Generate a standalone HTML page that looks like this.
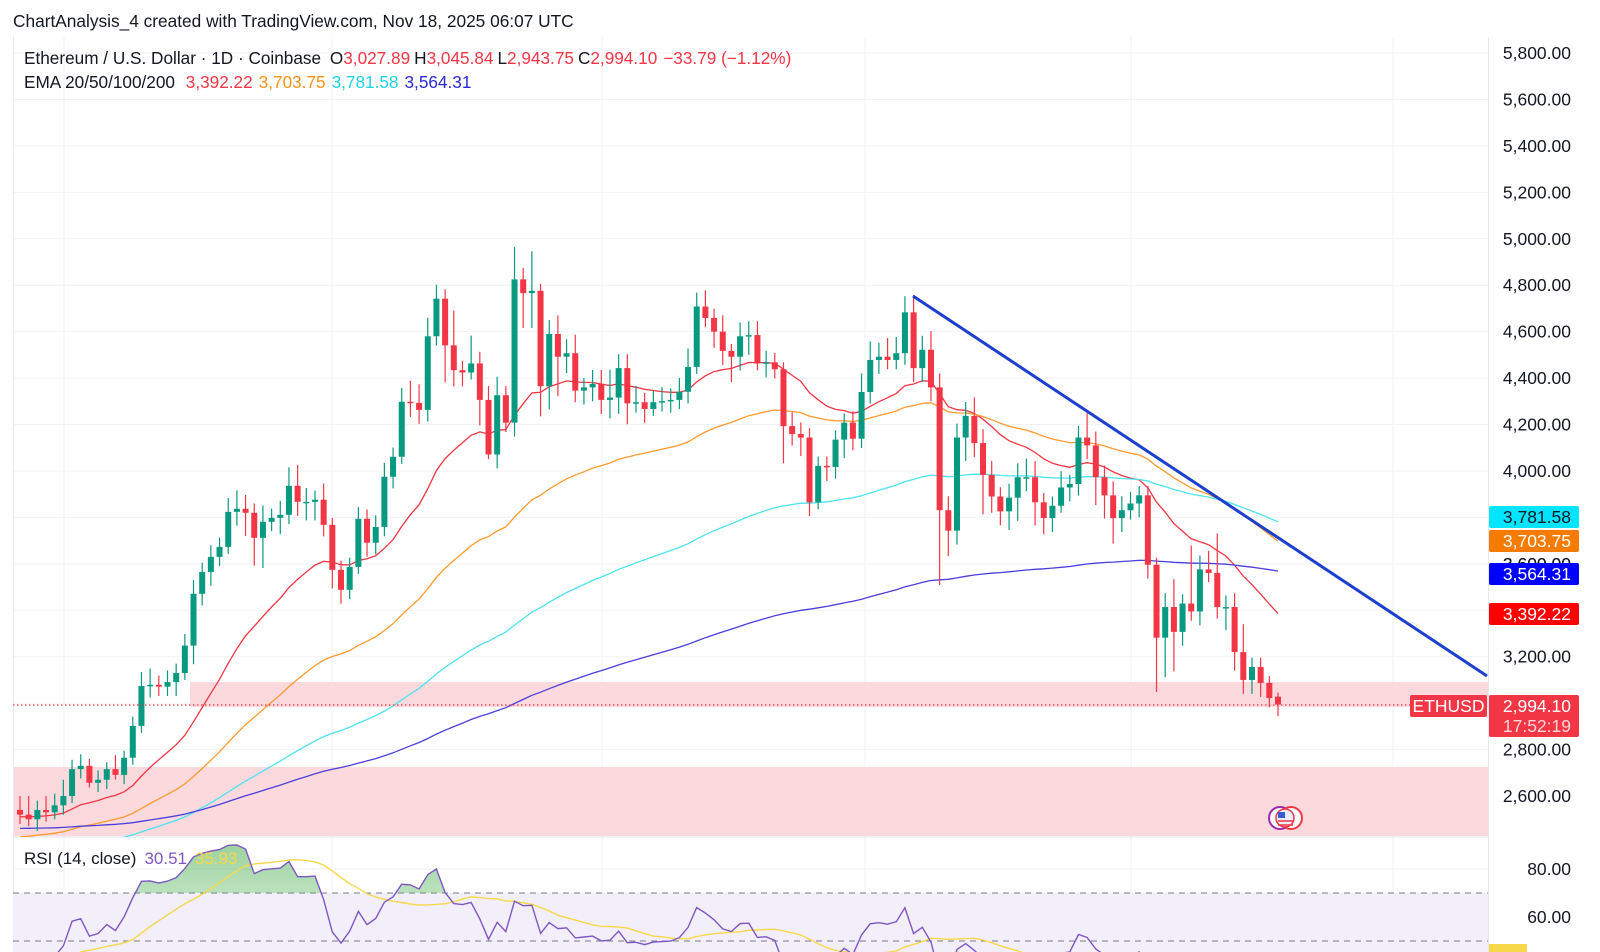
<!DOCTYPE html>
<html><head><meta charset="utf-8"><style>
html,body{margin:0;padding:0;background:#fff;}
svg{display:block;font-family:"Liberation Sans",Arial,sans-serif;}
</style></head><body>
<svg id="chart" width="1600" height="952" viewBox="0 0 1600 952" xmlns="http://www.w3.org/2000/svg">
<rect width="1600" height="952" fill="#ffffff"/>
<text x="13" y="27" font-size="17.3" fill="#131722">ChartAnalysis_4 created with TradingView.com, Nov 18, 2025 06:07 UTC</text>
<g id="grid"></g>
<rect x="190" y="682" width="1298" height="25" fill="#fbd7db" opacity="0.95"/>
<rect x="13" y="767" width="1475" height="69" fill="#fbd7db" opacity="0.95"/>
<line x1="13.5" y1="37" x2="13.5" y2="952" stroke="#e6e8ee"/>
<line x1="1488.5" y1="37" x2="1488.5" y2="952" stroke="#e6e8ee"/>
<line x1="13" y1="837" x2="1488" y2="837" stroke="#e0e3eb"/>
<g id="emas"></g>
<g id="candles"></g>
<line x1="13" y1="705" x2="1410" y2="705" stroke="#f23645" stroke-width="1.2" stroke-dasharray="1.5,2.5"/>
<line x1="913" y1="296" x2="1487" y2="676" stroke="#1c3fce" stroke-width="3"/>
<g id="axis"></g>
<g id="rsi"></g>
<g font-size="17.2">
<text x="24" y="64" fill="#131722">Ethereum / U.S. Dollar · 1D · Coinbase <tspan dx="4">O</tspan><tspan fill="#f23645">3,027.89</tspan><tspan dx="4">H</tspan><tspan fill="#f23645">3,045.84</tspan><tspan dx="4">L</tspan><tspan fill="#f23645">2,943.75</tspan><tspan dx="4">C</tspan><tspan fill="#f23645">2,994.10</tspan><tspan dx="6" fill="#f23645">−33.79 (−1.12%)</tspan></text>
<text x="24" y="88" fill="#131722">EMA 20/50/100/200 <tspan dx="6" fill="#f23645">3,392.22</tspan><tspan dx="6" fill="#f7931a">3,703.75</tspan><tspan dx="6" fill="#22d3e6">3,781.58</tspan><tspan dx="6" fill="#2a2ad6">3,564.31</tspan></text>
</g>
<g>
<circle cx="1280" cy="818" r="11" fill="#fff" stroke="#9c27b0" stroke-width="2"/>
<circle cx="1291" cy="818" r="11" fill="#fff" stroke="#f23645" stroke-width="2"/>
<circle cx="1285" cy="818" r="9" fill="#e8eefc" stroke="#f23645" stroke-width="1.5"/>
<rect x="1278" y="812" width="7" height="6" fill="#3a5bd9"/>
<line x1="1278" y1="821" x2="1293" y2="821" stroke="#f23645" stroke-width="1.5"/>
<line x1="1278" y1="825" x2="1293" y2="825" stroke="#f23645" stroke-width="1.5"/>
</g>
<script>
// ---- data (true prices, daily closes) ----
const closes = [2520,2500,2540,2530,2560,2600,
2716,2730,2657,2670,2716,2691,2765,2902,3074,3079,3071,3091,3130,3248,3471,3565,3630,3673,3824,3837,3820,3712,3781,3798,3811,3936,3867,3867,3876,3768,3574,3488,3587,3794,3691,3759,3975,4061,4298,4293,4263,4580,
4742,4541,4434,4424,4463,4306,4071,4326,4208,4825,4766,4776,4365,4590,4492,4507,4346,4360,4375,4306,4316,4443,4291,4296,4267,4296,4301,4306,4341,4448,4708,4659,4600,4517,4492,4580,4585,4463,4468,4438,4193,4159,4144,3865,4022,4017,4135,
4208,4139,4340,4478,4492,4478,4507,4683,4443,4522,4360,3831,3743,4144,4237,4120,3983,3890,3826,3885,3973,3973,3865,3797,3850,3929,3944,4144,4110,3973,3895,3797,3831,3860,3895,3596,3282,3414,3307,3429,3395,3576,3561,3414,3414,3220,3100,3156,
3087,3022,2994.10];
const wickUp = [60,80,40,60,50,70,
40,50,30,40,30,60,30,40,60,70,40,50,40,50,60,40,50,40,60,80,60,40,70,40,60,80,90,60,40,70,30,40,40,50,40,50,60,40,60,90,80,80,
60,40,150,40,120,50,60,80,40,140,50,170,30,60,80,60,80,40,60,60,120,60,60,70,40,50,60,50,60,80,60,70,40,70,30,60,60,60,50,40,30,60,50,40,40,40,40,
40,50,80,80,60,80,70,70,75,60,80,60,60,60,60,80,60,60,40,60,60,80,70,40,40,70,40,50,106,60,50,60,60,50,40,40,30,60,120,40,250,60,80,170,50,60,120,40,
40,30,18];
const wickDn = [40,30,50,40,30,40,
30,40,20,40,40,20,40,30,30,50,40,40,60,30,80,50,60,40,30,60,100,120,130,40,70,40,60,80,80,50,80,60,40,30,60,50,40,50,30,60,60,50,
40,160,70,60,30,110,20,60,40,60,150,150,130,100,170,70,50,60,60,60,80,70,90,40,60,30,40,50,40,50,30,40,70,60,110,60,80,30,60,40,160,50,80,60,30,60,50,
80,50,40,50,60,40,40,50,60,60,60,322,110,60,100,60,170,70,60,80,100,60,100,70,60,30,60,50,60,120,100,110,60,40,60,60,234,170,170,60,40,60,40,50,100,80,60,60,
60,40,50];
const lastOpen = 3027.89;
const priceTicks = [5800,5600,5400,5200,5000,4800,4600,4400,4200,4000,3800,3600,3400,3200,3000,2800,2600];
const emaPeriods = [20,50,100,200];
const emaSeeds = [2510,2420,2360,2460];
const rsiTicks = [80,60];

// ---- scales ----
const NS="http://www.w3.org/2000/svg";
const X0=20, X1=1278;
const AF='17.5';
const xPos = i => X0 + i*(X1-X0)/(closes.length-1);
const yPrice = p => 53 + (5800-p)*0.2322;
const yRsi = v => 869 + (80-v)*2.4;
function mk(tag, attrs, parent){const e=document.createElementNS(NS,tag);for(const k in attrs)e.setAttribute(k,attrs[k]);parent.appendChild(e);return e;}
const fmt = v => v.toLocaleString('en-US',{minimumFractionDigits:2,maximumFractionDigits:2});

// grid
const grid=document.getElementById('grid');
[64,332,602,865,1131,1393].forEach(x=>{const l=mk('line',{x1:x,y1:37,x2:x,y2:952,stroke:'#f0f2f5'},grid);

});
priceTicks.forEach(p=>{const l=mk('line',{x1:13,y1:yPrice(p),x2:1488,y2:yPrice(p),stroke:'#f0f2f5'},grid);

});

// axis labels
const axis=document.getElementById('axis');
priceTicks.forEach(p=>{if(p===3000||p===3400)return;const t=mk('text',{x:1571,y:yPrice(p)+6,'font-size':AF,'text-anchor':'end',fill:'#131722'},axis);t.textContent=fmt(p);

});

// candles
const cg=document.getElementById('candles');
closes.forEach((c,i)=>{
  const o = i===closes.length-1 ? lastOpen : (i===0 ? c+20 : closes[i-1]);
  const hi=Math.max(o,c)+wickUp[i], lo=Math.min(o,c)-wickDn[i];
  const col = c>=o ? '#089981' : '#f23645';
  const x=xPos(i);
  const w=mk('line',{x1:x,y1:yPrice(hi),x2:x,y2:yPrice(lo),stroke:col,'stroke-width':1.2},cg);
  
  
  const yt=yPrice(Math.max(o,c)), yb=yPrice(Math.min(o,c));
  const b=mk('rect',{x:x-3,y:yt,width:6,height:Math.max(1.5,yb-yt),fill:col},cg);
  
  
});

// EMAs
const emaColors=['#f23645','#ff9a2e','#4de3f0','#4b3fdc'];
const emaNames=['ema-20-line','ema-50-line','ema-100-line','ema-200-line'];
const eg=document.getElementById('emas');
const emaClip=mk('clipPath',{id:'mainClip'},mk('defs',{},eg));
mk('rect',{x:13,y:37,width:1475,height:800},emaClip);
emaPeriods.forEach((n,j)=>{
  const k=2/(n+1); let e=emaSeeds[j]; const pts=[];
  closes.forEach((c,i)=>{e=e+k*(c-e);pts.push(xPos(i).toFixed(1)+','+yPrice(e).toFixed(1));});
  const pl=mk('polyline',{points:pts.join(' '),fill:'none',stroke:emaColors[j],'stroke-width':1.3,'clip-path':'url(#mainClip)'},eg);
  
  
});

// price label boxes
const labels=[
 {y:517,txt:'3,781.58',bg:'#00e5ff',fg:'#131722',name:'ema-100-price-label'},
 {y:541,txt:'3,703.75',bg:'#f57c00',fg:'#ffffff',name:'ema-50-price-label'},
 {y:574,txt:'3,564.31',bg:'#0000ff',fg:'#ffffff',name:'ema-200-price-label'},
 {y:614,txt:'3,392.22',bg:'#ff0000',fg:'#ffffff',name:'ema-20-price-label'}];
const ghost=mk('text',{x:1571,y:yPrice(3600)+6,'font-size':AF,'text-anchor':'end',fill:'#131722'},axis);ghost.textContent='3,600.00';


labels.forEach(L=>{
  const g=mk('g',{},axis);
  
  
  mk('rect',{x:1489,y:L.y-11,width:90,height:22,rx:2,fill:L.bg},g);
  const t=mk('text',{x:1571,y:L.y+6,'font-size':AF,'text-anchor':'end',fill:L.fg},g);t.textContent=L.txt;
});
const lp=mk('g',{},axis);


mk('rect',{x:1489,y:695,width:90,height:42,rx:2,fill:'#f23645'},lp);
let t1=mk('text',{x:1571,y:712,'font-size':AF,'text-anchor':'end',fill:'#fff'},lp);t1.textContent=fmt(closes[closes.length-1]);
let t2=mk('text',{x:1571,y:732,'font-size':AF,'text-anchor':'end',fill:'#ffd6da'},lp);t2.textContent='17:52:19';
const sym=mk('g',{},axis);


mk('rect',{x:1410,y:695,width:77,height:22,rx:2,fill:'#f23645'},sym);
let t3=mk('text',{x:1448.5,y:712,'font-size':AF,'text-anchor':'middle',fill:'#fff'},sym);t3.textContent='ETHUSD';

// RSI (Wilder 14) + MA 14
const rg=document.getElementById('rsi');
const rdefs=mk('defs',{},rg);
const rc=mk('clipPath',{id:'rsiClip'},rdefs);mk('rect',{x:13,y:838,width:1475,height:114},rc);
const ob=mk('clipPath',{id:'obClip'},rdefs);mk('rect',{x:13,y:838,width:1475,height:yRsi(70)-838},ob);
const gr=mk('linearGradient',{id:'obGrad',x1:0,y1:0,x2:0,y2:1},rdefs);
mk('stop',{offset:'0','stop-color':'#4caf50','stop-opacity':'0.55'},gr);mk('stop',{offset:'1','stop-color':'#4caf50','stop-opacity':'0.02'},gr);
const band=mk('rect',{x:13,y:yRsi(70),width:1475,height:952-yRsi(70),fill:'#f2eefa'},rg);


rsiTicks.forEach(v=>{mk('line',{x1:13,y1:yRsi(v),x2:1488,y2:yRsi(v),stroke:'#f0f2f5'},rg);
 const t=mk('text',{x:1571,y:yRsi(v)+6,'font-size':AF,'text-anchor':'end',fill:'#131722'},rg);t.textContent=v.toFixed(2);
 
 });
[70,50].forEach(v=>{const l=mk('line',{x1:13,y1:yRsi(v),x2:1488,y2:yRsi(v),stroke:'#787b86','stroke-dasharray':'6,5','stroke-width':1},rg);
 
 });
let ag=15, al=25; const rsi=[];
closes.forEach((c,i)=>{ if(i>0){const d=c-closes[i-1];ag=(ag*13+Math.max(d,0))/14;al=(al*13+Math.max(-d,0))/14;} rsi.push(100-100/(1+ag/al)); });
const ma=rsi.map((v,i)=>{const s=rsi.slice(Math.max(0,i-13),i+1);return s.reduce((a,b)=>a+b,0)/s.length;});
const rpts=rsi.map((v,i)=>xPos(i).toFixed(1)+','+yRsi(v).toFixed(1));
const fillPts=rpts.join(' ')+' '+xPos(rsi.length-1)+','+yRsi(70)+' '+X0+','+yRsi(70);
mk('polygon',{points:fillPts,fill:'url(#obGrad)','clip-path':'url(#obClip)'},rg);
const maL=mk('polyline',{points:ma.map((v,i)=>xPos(i).toFixed(1)+','+yRsi(v).toFixed(1)).join(' '),fill:'none',stroke:'#f7d84a','stroke-width':1.4,'clip-path':'url(#rsiClip)'},rg);


const rL=mk('polyline',{points:rpts.join(' '),fill:'none',stroke:'#7e57c2','stroke-width':1.4,'clip-path':'url(#rsiClip)'},rg);


const ylb=mk('rect',{x:1489,y:944,width:38,height:8,fill:'#f7d84a'},rg);


const rt=mk('text',{x:24,y:864,'font-size':'17','fill':'#131722'},rg);


const ts0=mk('tspan',{},rt);ts0.textContent='RSI (14, close)';
const ts1=mk('tspan',{dx:'8',fill:'#7e57c2'},rt);ts1.textContent='30.51';
const ts2=mk('tspan',{dx:'8',fill:'#f7d84a'},rt);ts2.textContent='35.93';
</script>
</svg>
</body></html>
